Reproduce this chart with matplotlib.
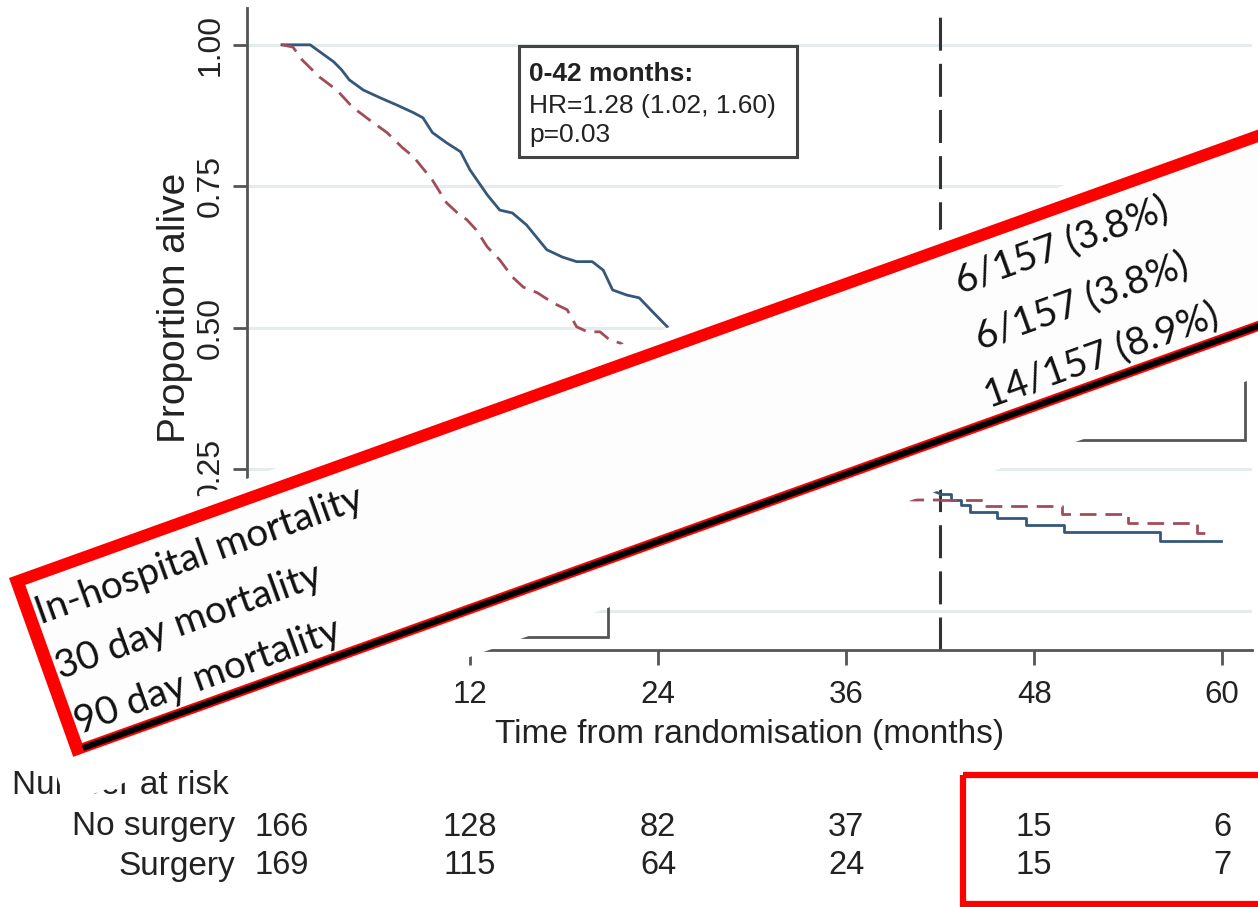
import numpy as np
import matplotlib.pyplot as plt
from matplotlib.patches import Polygon, Rectangle
from matplotlib.transforms import blended_transform_factory

plt.rcParams['font.family'] = ['Liberation Sans', 'DejaVu Sans']

# Kaplan-Meier curves (0-42 months, hidden middle guessed)
months_no_surgery = [0, 1.8, 2.4, 3.3, 3.8, 4.3, 5.2, 6.3, 7.3, 8.4, 9.0, 9.6, 10.5, 11.4,
                     12.0, 13.1, 13.9, 14.7, 15.6, 16.9, 17.9, 18.8, 19.8, 20.5, 21.1,
                     22.0, 22.8, 23.7, 24.8, 26, 30, 34, 38, 42]
surv_no_surgery = [1.0, 1.0, 0.988, 0.970, 0.956, 0.938, 0.920, 0.906, 0.894, 0.880, 0.871,
                   0.845, 0.827, 0.811, 0.779, 0.735, 0.708, 0.703, 0.682, 0.638, 0.625,
                   0.617, 0.617, 0.602, 0.567, 0.558, 0.553, 0.527, 0.496, 0.48, 0.39,
                   0.31, 0.25, 0.207]
months_surgery = [0, 0.7, 1.3, 2.4, 3.5, 4.5, 5.6, 6.7, 7.7, 8.4, 9.6, 10.5, 11.2, 11.8,
                  12.4, 13.1, 13.9, 14.7, 15.4, 16.3, 17.3, 18.2, 18.8, 19.5, 20.3, 20.9,
                  21.6, 23, 26, 30, 34, 38, 40.1, 42]
surv_surgery = [1.0, 0.996, 0.973, 0.943, 0.920, 0.890, 0.867, 0.845, 0.818, 0.802, 0.761,
                0.721, 0.703, 0.691, 0.673, 0.643, 0.620, 0.590, 0.572, 0.562, 0.544,
                0.532, 0.502, 0.493, 0.493, 0.479, 0.473, 0.45, 0.40, 0.32, 0.26, 0.22,
                0.196, 0.196]

# 42-60 months, clear steps
months_no_surgery_late = [42, 42.7, 43.3, 43.9, 45.6, 47.5, 49.9, 56.0, 59.9]
surv_no_surgery_late = [0.207, 0.196, 0.187, 0.175, 0.164, 0.152, 0.140, 0.124, 0.124]
months_surgery_late = [42, 44.8, 49.8, 54.0, 58.4, 59.3]
surv_surgery_late = [0.196, 0.185, 0.171, 0.156, 0.138, 0.138]

risk_months = [0, 12, 24, 36, 48, 60]
risk_no_surgery = [166, 128, 82, 37, 15, 6]
risk_surgery = [169, 115, 64, 24, 15, 7]

x_ticks = [0, 12, 24, 36, 48, 60]
y_ticks = [0, 0.25, 0.5, 0.75, 1.0]
y_tick_labels = ['0.00', '0.25', '0.50', '0.75', '1.00']
landmark = 42

hr_lines = ['0-42 months:', 'HR=1.28 (1.02, 1.60)', 'p=0.03']
mortality_labels = ['In-hospital mortality', '30 day mortality', '90 day mortality']
mortality_values = ['6/157 (3.8%)', '6/157 (3.8%)', '14/157 (8.9%)']

BLUE = '#35577c'
RED = '#a14d59'
AXC = '#555555'

W, H = 1258, 907
fig = plt.figure(figsize=(W / 100, H / 100), dpi=100)
ax = fig.add_axes([247 / W, 1 - 650 / H, (1252 - 247) / W, (650 - 8) / H])

ax.set_xlim(-2.23, 61.9)
ax.set_ylim(-0.069, 1.065)
ax.set_xticks(x_ticks)
ax.set_yticks(y_ticks)
ax.set_yticklabels(y_tick_labels)
ax.yaxis.grid(True, color='#e4ecee', lw=2.2)
ax.set_axisbelow(True)
for s in ['top', 'right']:
    ax.spines[s].set_visible(False)
for s in ['left', 'bottom']:
    ax.spines[s].set_color(AXC)
    ax.spines[s].set_linewidth(2)
ax.tick_params(axis='x', length=10.8, width=2, color=AXC, labelsize=22.5, pad=11, labelcolor='#222')
ax.tick_params(axis='y', length=10, width=2, color=AXC, labelsize=23, pad=5.5, labelcolor='#222',
               labelrotation=90)
for lab in ax.get_yticklabels():
    lab.set_va('center')

ax.axvline(landmark, ymin=0, ymax=0.994, color='#333333', lw=2.2, ls=(0, (10.8, 4.3)))

ax.plot(months_no_surgery, surv_no_surgery, color=BLUE, lw=2)
ax.plot(months_no_surgery_late, surv_no_surgery_late, color=BLUE, lw=2, drawstyle='steps-post')
ax.plot(months_surgery, surv_surgery, color=RED, lw=2, ls=(0, (6, 3.2)))
ax.plot(months_surgery_late, surv_surgery_late, color=RED, lw=2, ls=(0, (6, 3.2)),
        drawstyle='steps-post')

ax.set_xlabel('Time from randomisation (months)', fontsize=24, color='#222')
ax.xaxis.set_label_coords(0.5, -0.108)
ax.set_ylabel('Proportion alive', fontsize=28, color='#222')
ax.yaxis.set_label_coords(-0.054, 0.533)

# number at risk table
tr = blended_transform_factory(ax.transData, fig.transFigure)
for m, n1, n2 in zip(risk_months, risk_no_surgery, risk_surgery):
    ax.text(m, 1 - 827 / H, str(n1), transform=tr, ha='center', va='center', fontsize=23.5,
            color='#222', clip_on=False)
    ax.text(m, 1 - 866 / H, str(n2), transform=tr, ha='center', va='center', fontsize=23.5,
            color='#222', clip_on=False)
ax.text(12 / W, 1 - 786 / H, 'Number at risk', transform=fig.transFigure, ha='left',
        va='center', fontsize=24, color='#222')
ax.text(235 / W, 1 - 827 / H, 'No surgery', transform=fig.transFigure, ha='right',
        va='center', fontsize=24, color='#222')
ax.text(235 / W, 1 - 866 / H, 'Surgery', transform=fig.transFigure, ha='right',
        va='center', fontsize=24, color='#222')

# overlay layer in pixel coordinates
ov = fig.add_axes([0, 0, 1, 1], zorder=5)
ov.set_xlim(0, W)
ov.set_ylim(H, 0)
ov.axis('off')
ov.patch.set_visible(False)

# HR box
ov.add_patch(Rectangle((519, 46), 278, 111, fc='white', ec='#444444', lw=2.2, zorder=1))
for i, line in enumerate(hr_lines):
    ov.text(529, [74, 106, 135][i], line, ha='left', va='center', fontsize=19, color='#222',
            fontweight='bold' if i == 0 else 'normal')

# boxes mostly hidden under the pasted panel
ov.add_patch(Rectangle((300, 520), 308, 117, fill=False, ec=AXC, lw=2, zorder=1))
ov.add_patch(Rectangle((1000, 330), 245, 110, fill=False, ec=AXC, lw=2, zorder=1))

ang = 19.75
U = np.array([np.cos(np.deg2rad(ang)), -np.sin(np.deg2rad(ang))])
V = np.array([np.sin(np.deg2rad(ang)), np.cos(np.deg2rad(ang))])
O = np.array([9.0, 578.0])


def box_pt(u, v):
    return O + u * U + v * V


def box_poly(pts, **kw):
    ov.add_patch(Polygon([box_pt(u, v) for u, v in pts], closed=True, **kw))


box_poly([(-22, -13), (1500, -13), (1500, 234), (420, 230), (-22, 232)], fc='white', ec='none', zorder=2)
box_poly([(0, 0), (1500, 0), (1500, 190), (0, 190)], fc='#ff0000', ec='none', zorder=3)
box_poly([(13, 12), (1500, 12), (1500, 180), (13, 180)], fc='#fdfdfd', ec='none', zorder=4)
box_poly([(12, 182), (1500, 182), (1500, 188), (12, 188)], fc='black', ec='none', zorder=5)

fam = ['Lato', 'DejaVu Sans']
probe = ov.text(0, 0, mortality_labels[0], fontsize=30, family=fam)
fig.canvas.draw()
fs = 30 * 345 / probe.get_window_extent().width
probe.remove()

baselines = [54, 113, 171]
for lab, val, v in zip(mortality_labels, mortality_values, baselines):
    x, y = box_pt(14, v)
    ov.text(x, y, lab, rotation=ang, rotation_mode='anchor', ha='left', va='baseline',
            fontsize=fs, family=fam, color='#111', zorder=6)
    x, y = box_pt(1103, v)
    ov.text(x, y, val, rotation=ang, rotation_mode='anchor', ha='center', va='baseline',
            fontsize=fs, family=fam, color='#111', zorder=6)

# red frame around the late numbers at risk
ov.add_patch(Rectangle((963, 775), 400, 129, fill=False, ec='#ff0000', lw=4.5, zorder=6))

fig.savefig('out.png', dpi=100)
